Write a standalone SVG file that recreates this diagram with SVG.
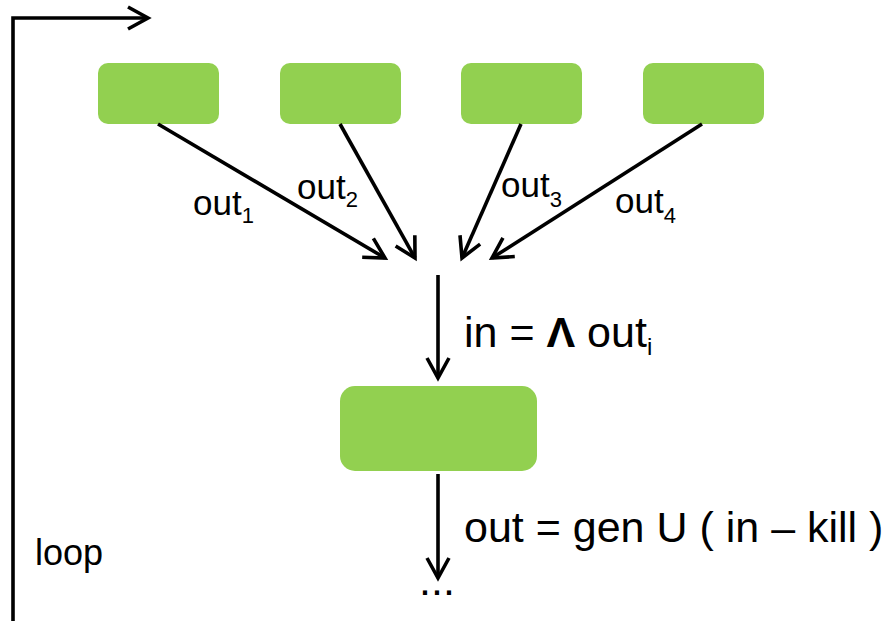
<svg xmlns="http://www.w3.org/2000/svg" width="886" height="621" viewBox="0 0 886 621">
<style>
.node{fill:#92D050;}
.edge{fill:none;stroke:#000;stroke-width:3.6;}
text{font-family:"Liberation Sans",Arial,sans-serif;fill:#000;}
.lbl{font-size:35px;}
.sub{font-size:22px;}
.big{font-size:43px;}
</style>
<defs>
<marker id="arr" markerUnits="userSpaceOnUse" viewBox="-24 -14 28 28" refX="0" refY="0" markerWidth="28" markerHeight="28" orient="auto" overflow="visible">
<path d="M-20,-11 L0,0 L-20,11" fill="none" stroke="#000" stroke-width="3.6" stroke-linejoin="miter"/>
</marker>
</defs>
<rect width="886" height="621" fill="#fff"/>
<g id="n1"><rect class="node" x="98" y="63" width="121" height="61" rx="10"/></g>
<g id="n2"><rect class="node" x="280" y="63" width="121" height="61" rx="10"/></g>
<g id="n3"><rect class="node" x="461" y="63" width="121" height="61" rx="10"/></g>
<g id="n4"><rect class="node" x="643" y="63" width="121" height="61" rx="10"/></g>
<g id="n5"><rect class="node" x="340" y="386" width="197" height="85" rx="15"/></g>
<g id="connectors">
<line class="edge" x1="158" y1="124" x2="385" y2="258" marker-end="url(#arr)"/>
<line class="edge" x1="340" y1="124" x2="415" y2="258" marker-end="url(#arr)"/>
<line class="edge" x1="521" y1="124" x2="462" y2="258" marker-end="url(#arr)"/>
<line class="edge" x1="702" y1="124" x2="492" y2="258" marker-end="url(#arr)"/>
<line class="edge" x1="438" y1="275" x2="438" y2="378" marker-end="url(#arr)"/>
<line class="edge" x1="438" y1="474" x2="438" y2="578" marker-end="url(#arr)"/>
<polyline class="edge" points="13,621 13,18 148,18" marker-end="url(#arr)"/>
</g>
<g id="labels">
<text class="lbl" x="193" y="215">out<tspan class="sub" dy="8">1</tspan></text>
<text class="lbl" x="297" y="199">out<tspan class="sub" dy="8">2</tspan></text>
<text class="lbl" x="501" y="197">out<tspan class="sub" dy="10">3</tspan></text>
<text class="lbl" x="615" y="213">out<tspan class="sub" dy="10">4</tspan></text>
<text class="big" x="464" y="347">in = <tspan font-weight="bold">Λ</tspan> out<tspan class="sub" dy="8" style="font-size:24px">i</tspan></text>
<text class="big" x="464" y="542">out = gen U ( in – kill )</text>
<text class="big" x="437" y="595" text-anchor="middle">...</text>
<text x="35" y="565" style="font-size:36px">loop</text>
</g>
</svg>
